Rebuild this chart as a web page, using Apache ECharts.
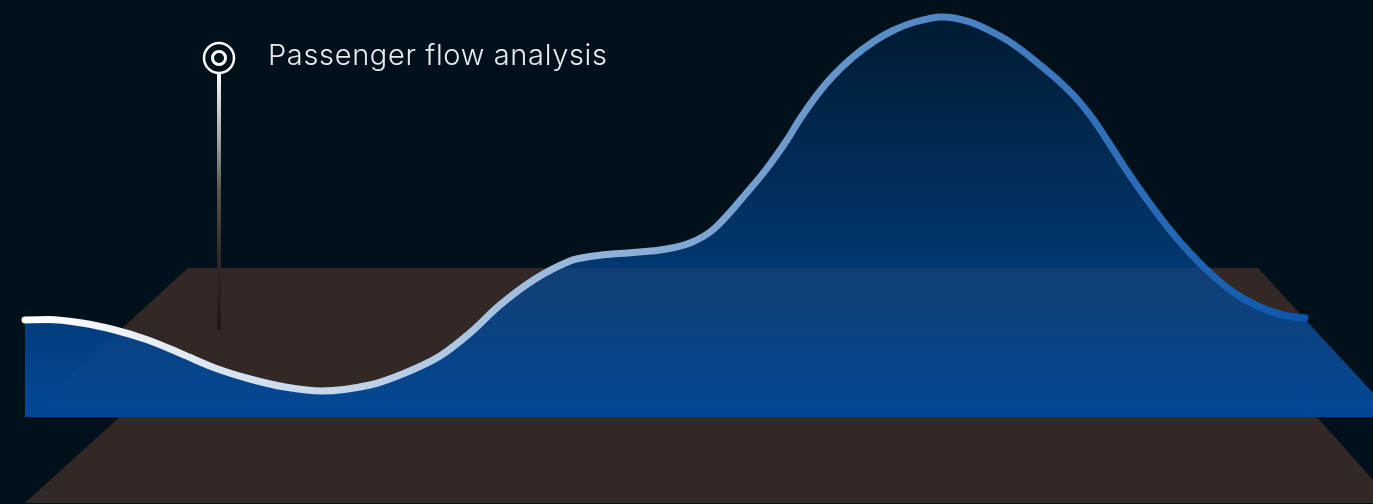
<!DOCTYPE html>
<html><head><meta charset="utf-8">
<style>html,body{margin:0;padding:0;background:#00111c}#c{width:1373px;height:504px}</style>
<script src="https://cdn.jsdelivr.net/npm/echarts@6/dist/echarts.min.js"></script>
</head><body><div id="c"></div>
<script>
const titleText = 'Passenger flow analysis';
const flowX = [25,48,82,115,148,182,215,250,285,322,370,405,440,470,500,535,570,590,612,660,690,715,750,768,787,800,817,833,853,873,892,915,942,970,1000,1020,1040,1060,1077,1093,1107,1127,1148,1170,1190,1210,1233,1260,1283,1305];
const flowY = [97,97.5,94,87,77,63,49,38,30,26,32,44,61,84,112,138,156,160.5,163,167,174,189,228,250,277,298,322,341,360,375,386,395,400,395,381,368,352,335,318,298,277,246,216,187,164,144,125,110,102,99];
const pinX = [219,219];
const pinY = [346,87];
const ringPoint = [219,359];
const planeUpper = [[188,149],[1258,149],[1373,24],[1373,0],[25,0]];
const planeLower = [[119.5,0],[1317,0],[1373,-63],[1373,-86],[25,-86]];
const planeEdge = [[1304.5,98],[1373,24],[1373,0],[1304.5,0]];

// Canvas text letter spacing, which the title style has no option for
const nativeFillText = CanvasRenderingContext2D.prototype.fillText;
CanvasRenderingContext2D.prototype.fillText = function () {
  this.letterSpacing = '0.65px';
  return nativeFillText.apply(this, arguments);
};

const LG = echarts.graphic.LinearGradient;
const areaFill = () => new LG(0,17,0,417,[
  {offset:0,color:'rgba(3,72,150,0.18)'},
  {offset:1,color:'rgba(3,72,150,1)'}],true);
const polySeries = (pts, fill, z) => ({
  type:'custom', coordinateSystem:'cartesian2d', clip:false, silent:true, z,
  data:[[pts[0][0],pts[0][1]]],
  renderItem:(p,api)=>({type:'polygon',
    shape:{points:pts.map(q=>api.coord(q))},
    style:{fill: typeof fill==='function'?fill():fill}})
});
const flow = flowX.map((x,i)=>[x,flowY[i]]);
const pin = pinX.map((x,i)=>[x,pinY[i]]);

const chart = echarts.init(document.getElementById('c'));
chart.setOption({
  animation:false,
  backgroundColor:'#00111c',
  title:{text:titleText,left:263,top:37,
    textStyle:{color:'#e8ecef',fontFamily:'Inter',fontWeight:300,fontSize:29}},
  grid:{left:25,right:68,top:0,bottom:87},
  xAxis:{type:'value',min:25,max:1305,show:false},
  yAxis:{type:'value',min:0,max:417,show:false},
  series:[
    polySeries(planeUpper,'#322927',1),
    polySeries(planeLower,'#322927',1),
    polySeries(planeEdge,areaFill,2),
    {type:'line',data:flow,smooth:0.33,symbol:'none',clip:false,z:3,
      lineStyle:{width:7,cap:'round',
        color:new LG(25,0,1305,0,[{offset:0,color:'#ffffff'},{offset:1,color:'#0a56ad'}],true)},
      areaStyle:{color:areaFill(),opacity:1,origin:'start'}},
    {type:'line',data:pin,symbol:'none',clip:false,z:4,
      lineStyle:{width:4,cap:'butt',
        color:new LG(0,71,0,330,[
          {offset:0,color:'#ffffff'},{offset:0.25,color:'#aaaaaa'},
          {offset:0.45,color:'#5c5654'},{offset:0.7,color:'#332a28'},
          {offset:1,color:'#241613'}],true)}},
    {type:'scatter',data:[ringPoint],symbol:'circle',symbolSize:30,z:5,clip:false,
      itemStyle:{color:'#00111c',borderColor:'#ffffff',borderWidth:2.5,opacity:1}},
    {type:'scatter',data:[ringPoint],symbol:'circle',symbolSize:13,z:6,clip:false,
      itemStyle:{color:'#00111c',borderColor:'#ffffff',borderWidth:3,opacity:1}}
  ]
});
</script></body></html>
